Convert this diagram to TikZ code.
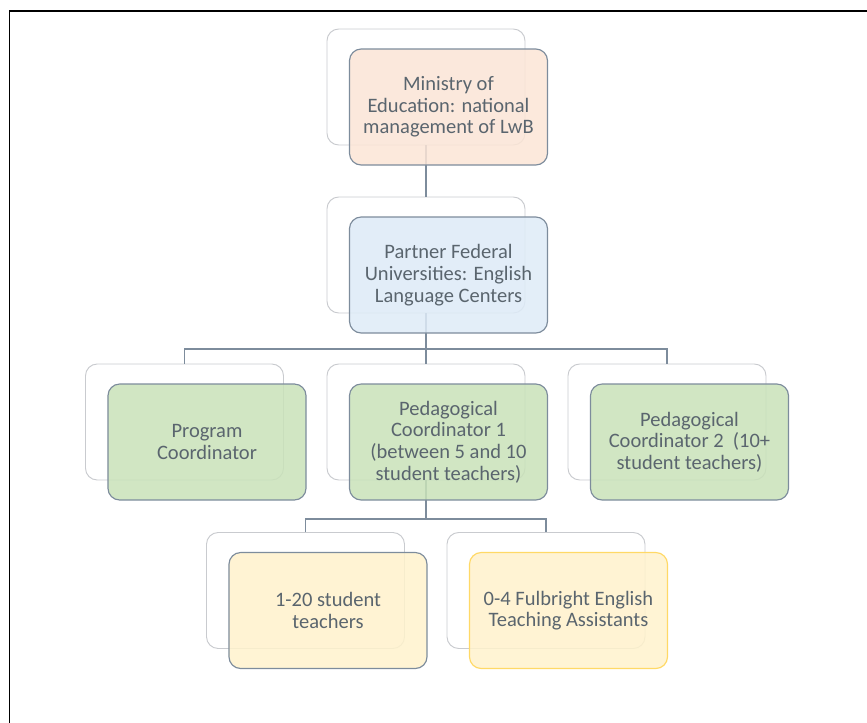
\documentclass[tikz,border=0pt]{standalone}
\usepackage{fontspec}
\setmainfont{Carlito}
\usepackage{tikz}
\usetikzlibrary{calc}

\definecolor{peach}{HTML}{FBE5D6}
\definecolor{paleblue}{HTML}{DEEBF7}
\definecolor{palegreen}{HTML}{C9E2B9}
\definecolor{paleyellow}{HTML}{FFF2CC}
\definecolor{gold}{HTML}{FFD966}
\definecolor{slate}{HTML}{7D8C9C}
\definecolor{ghost}{HTML}{C9CBCF}
\definecolor{ink}{HTML}{5A656E}

\begin{document}
\begin{tikzpicture}[x=0.03cm, y=-0.03cm,
    back/.style = {draw=ghost, fill=white, rounded corners=10pt, minimum width=5.94cm, minimum height=3.48cm, line width=0.8pt},
    main/.style = {draw=slate, rounded corners=10pt, minimum width=5.94cm, minimum height=3.48cm, fill opacity=0.85, text opacity=1, align=center, text=ink, font=\fontsize{17.5}{18.5}\selectfont, line width=1pt},
    link/.style = {draw=slate, line width=1.1pt}]
    \useasboundingbox (0,0) rectangle (867,722);
    \clip (0,0) rectangle (867,722);

    % page frame
    \draw[line width=1.6pt] (9.5,760) |- (900,11);

    % shadow boxes
    \node [back] (min-b) at (426,87) {};
    \node [back] (uni-b) at (426,255) {};
    \node [back] (prog-b) at (184.5,422) {};
    \node [back] (ped1-b) at (426,422) {};
    \node [back] (ped2-b) at (667,422) {};
    \node [back] (stud-b) at (305.5,590.5) {};
    \node [back] (eta-b) at (546,590.5) {};

    % connectors
    \coordinate (bar1) at (426,349);
    \coordinate (bar2) at (426,519);
    \draw [link] (min-b) to (uni-b);
    \draw [link] (uni-b.south) to (bar1);
    \draw [link] (prog-b.north) |- (bar1) -| (ped2-b.north);
    \draw [link] (bar1) to (ped1-b.north);
    \draw [link] (ped1-b.south) to (bar2);
    \draw [link] (stud-b.north) |- (bar2) -| (eta-b.north);

    % units
    \node [main, fill=peach] (min) at ($(min-b)+(22.5,20)$) {Ministry of\\Education: national\\management of LwB};
    \node [main, fill=paleblue] (uni) at ($(uni-b)+(22.5,20)$) {Partner Federal\\Universities: English\\Language Centers};
    \node [main, fill=palegreen] (prog) at ($(prog-b)+(22.5,20)$) {Program\\Coordinator};
    \node [main, fill=palegreen] (ped1) at ($(ped1-b)+(22.5,20)$) {Pedagogical\\Coordinator 1\\(between 5 and 10\\student teachers)};
    \node [main, fill=palegreen] (ped2) at ($(ped2-b)+(22.5,20)$) {Pedagogical\\Coordinator 2 \ (10+\\student teachers)};
    \node [main, fill=paleyellow] (stud) at ($(stud-b)+(22.5,20)$) {1-20 student\\teachers};
    \node [main, fill=paleyellow, draw=gold] (eta) at ($(eta-b)+(22.5,20)$) {0-4 Fulbright English\\Teaching Assistants};

\end{tikzpicture}
\end{document}
